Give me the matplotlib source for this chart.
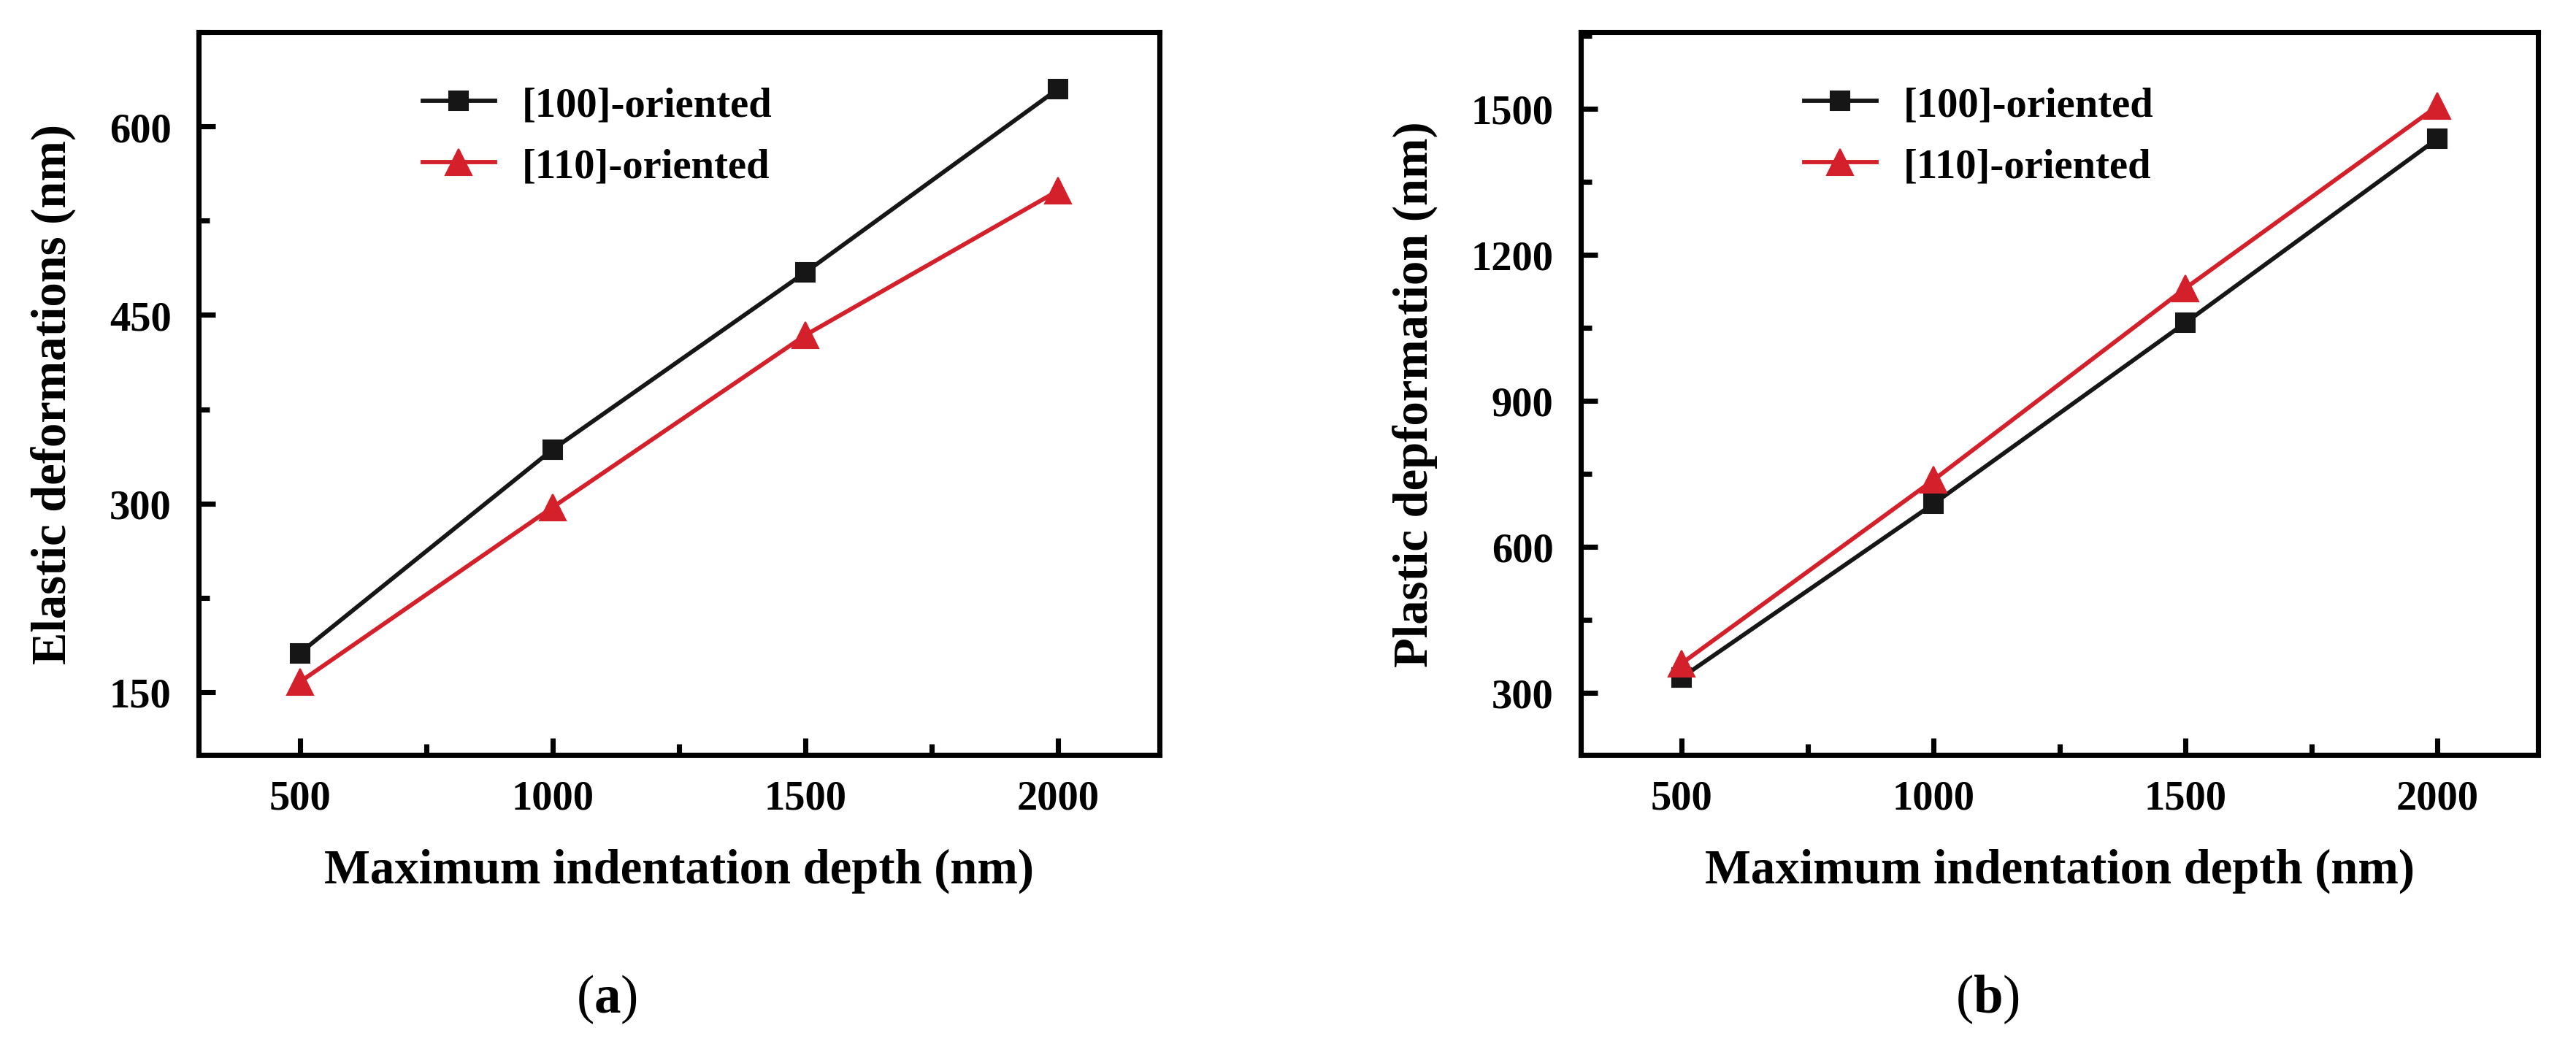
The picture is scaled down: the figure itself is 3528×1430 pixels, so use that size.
import numpy as np
import matplotlib
matplotlib.use("Agg")
import matplotlib.pyplot as plt
from matplotlib.ticker import MultipleLocator

plt.rcParams['font.family'] = ['Liberation Serif', 'DejaVu Serif']
plt.rcParams['mathtext.fontset'] = 'custom'
plt.rcParams['mathtext.rm'] = 'Liberation Serif'
plt.rcParams['mathtext.bf'] = 'Liberation Serif:bold'

# data
depth = [500, 1000, 1500, 2000]
elastic_100 = [181, 343, 484, 630]
elastic_110 = [158, 297, 434, 549]
plastic_100 = [331, 688, 1060, 1438]
plastic_110 = [360, 737, 1131, 1505]
series_labels = ['[100]-oriented', '[110]-oriented']
panel_tags = ['a', 'b']

black = '#161616'
red = '#d4202a'

fig = plt.figure(figsize=(11.76, 4.77), dpi=300)
ax1 = fig.add_axes([0.0771, 0.2767, 0.3730, 0.6918])
ax2 = fig.add_axes([0.6137, 0.2767, 0.3716, 0.6918])

def style_axes(ax, ylabel, ylim, ymajor):
    ax.set_xlim(300, 2200)
    ax.set_ylim(*ylim)
    ax.xaxis.set_major_locator(MultipleLocator(500))
    ax.xaxis.set_minor_locator(MultipleLocator(250))
    ax.yaxis.set_major_locator(MultipleLocator(ymajor))
    ax.yaxis.set_minor_locator(MultipleLocator(ymajor / 2))
    ax.tick_params(which='both', direction='in', top=False, right=False, width=1.7)
    ax.tick_params(which='major', length=5.5, labelsize=13.6)
    ax.tick_params(which='minor', length=3.5)
    ax.tick_params(axis='x', pad=8)
    ax.tick_params(axis='y', pad=9)
    for lbl in ax.get_xticklabels() + ax.get_yticklabels():
        lbl.set_fontweight('bold')
    for s in ax.spines.values():
        s.set_linewidth(1.7)
    ax.set_xlabel('Maximum indentation depth (nm)', fontsize=16, fontweight='bold', labelpad=10)
    ax.set_ylabel(ylabel, fontsize=16, fontweight='bold', labelpad=11)
    leg = ax.legend(loc='upper left', bbox_to_anchor=(0.233, 0.925), frameon=False,
                    borderpad=0, borderaxespad=0, handlelength=1.75, handletextpad=0.65,
                    labelspacing=0.56, prop={'weight': 'bold', 'size': 13.6})
    return leg

ax1.plot(depth, elastic_100, color=black, lw=1.4, marker='s', ms=6.2, mew=0.5, label=series_labels[0])
ax1.plot(depth, elastic_110, color=red, lw=1.4, marker='^', ms=8.6, mew=0.5, label=series_labels[1])
style_axes(ax1, 'Elastic deformations (nm)', (100, 675), 150)

ax2.plot(depth, plastic_100, color=black, lw=1.4, marker='s', ms=6.2, mew=0.5, label=series_labels[0])
ax2.plot(depth, plastic_110, color=red, lw=1.4, marker='^', ms=8.6, mew=0.5, label=series_labels[1])
style_axes(ax2, 'Plastic depformation (nm)', (172, 1657), 300)

# panel tags under each chart
for ax, tag in zip([ax1, ax2], panel_tags):
    ax.text(0.425, -0.338, r'($\mathbf{' + tag + r'}$)', transform=ax.transAxes,
            ha='center', va='center', fontsize=17.5)

fig.savefig('out.png', dpi=300)
